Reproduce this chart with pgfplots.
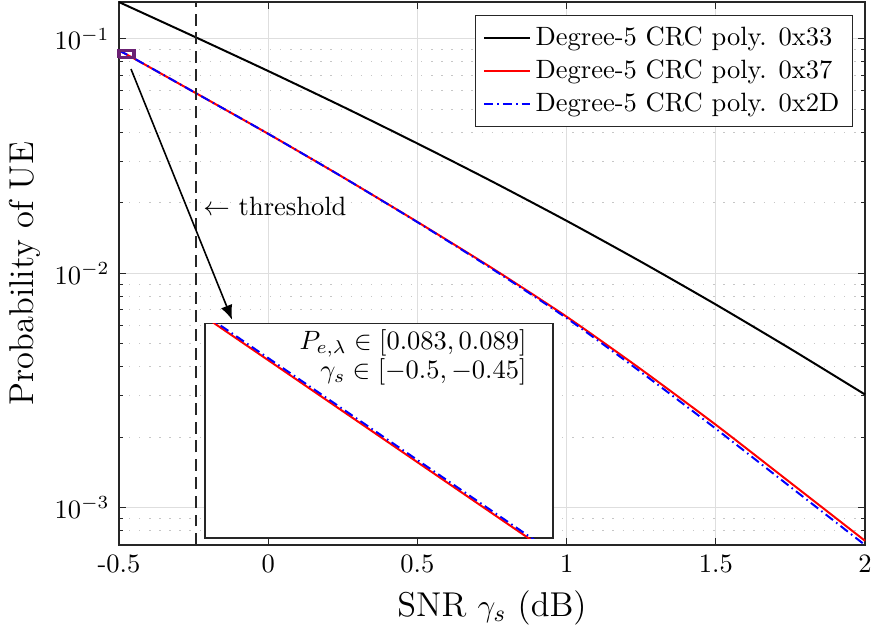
\documentclass[border=0pt]{standalone}
\usepackage{pgfplots}
\usepackage{pgfplotstable}
\pgfplotsset{compat=1.18}
\usetikzlibrary{arrows.meta}
\definecolor{axgray}{rgb}{0.15,0.15,0.15}
\definecolor{gridgray}{rgb}{0.87,0.87,0.87}
\definecolor{zoompurple}{rgb}{0.42,0.13,0.45}

\pgfplotstableread{
x y
-0.5 0.1436
-0.25 0.1026
0 0.07295
0.25 0.05140
0.5 0.03581
0.75 0.02466
1 0.01675
1.25 0.01119
1.5 0.007362
1.75 0.004764
2 0.003041
}\blackdata

\pgfplotstableread{
x y
-0.5 0.08918
-0.45 0.08255
-0.25 0.05946
0 0.03938
0.25 0.02572
0.5 0.01657
0.75 0.01053
1 0.006531
1.25 0.003890
1.5 0.002259
1.75 0.001279
2 0.0007228
}\reddata

\pgfplotstableread{
x y
-0.5 0.08924
-0.45 0.08261
-0.25 0.05946
0 0.03938
0.25 0.02572
0.5 0.01653
0.75 0.01045
1 0.006442
1.25 0.003784
1.5 0.002173
1.75 0.001227
2 0.0006934
}\bluedata

\begin{document}
\begin{tikzpicture}
\begin{axis}[name=main, scale only axis, width=281.5pt, height=204.9pt,
 ymode=log, xmin=-0.5, xmax=2, ymin=6.934e-4, ymax=0.1437,
 clip=false,
 xtick={-0.5,0,0.5,1,1.5,2}, xticklabels={-0.5,0,0.5,1,1.5,2},
 tick align=inside, major tick length=2.6pt, minor tick length=1.5pt,
 tick style={axgray, line width=0.4pt},
 axis line style={axgray, line width=0.5pt},
 xmajorgrids, ymajorgrids, yminorgrids,
 major grid style={gridgray, line width=0.4pt},
 minor grid style={gray!45, line width=0.4pt, dash pattern=on 0.5pt off 3.3pt},
 xlabel={SNR $\gamma_s$ (dB)}, ylabel={Probability of UE},
 label style={font=\fontsize{13}{15}\selectfont},
 ylabel style={yshift=-1.5pt},
 legend style={at={(1,1)}, anchor=north east, xshift=-4.5pt, yshift=-5pt, draw=axgray, line width=0.4pt, font=\fontsize{10}{12}\selectfont, cells={anchor=west}},
]
\addplot[black, line width=0.75pt, smooth, tension=0.4] table {\blackdata};
\addlegendentry{Degree-5 CRC poly. 0x33}
\addplot[red, line width=0.75pt, smooth, tension=0.4] table {\reddata};
\addlegendentry{Degree-5 CRC poly. 0x37}
\addplot[blue, line width=0.75pt, smooth, tension=0.4, dash pattern=on 3.5pt off 1.5pt on 0.6pt off 1.5pt] table {\bluedata};
\addlegendentry{Degree-5 CRC poly. 0x2D}
\addplot[axgray, line width=0.4pt, dash pattern=on 4.5pt off 2.5pt, forget plot] coordinates {(-0.242,6.934e-4) (-0.242,0.1437)};
\addplot[zoompurple, line width=1.2pt, forget plot] coordinates {(-0.5,0.083) (-0.45,0.083) (-0.45,0.089) (-0.5,0.089) (-0.5,0.083)};
\node[anchor=west, font=\fontsize{10}{12}\selectfont, inner sep=0pt] at (axis cs:-0.219,0.0192) {$\leftarrow$ threshold};
\draw[-{Latex[length=5.5pt,width=4.5pt]}, line width=0.6pt] (axis cs:-0.4598,0.0744) -- (axis cs:-0.121,0.00634);
\end{axis}
\begin{axis}[at={(main.south west)}, anchor=south west, xshift=32.5pt, yshift=2.6pt,
 scale only axis, width=131.3pt, height=81.1pt,
 xmin=-0.5, xmax=-0.45, ymin=0.083, ymax=0.089, ymode=log, ticks=none,
 axis line style={axgray, line width=0.6pt}, axis background/.style={fill=white}]
\addplot[red, line width=0.75pt] table {\reddata};
\addplot[blue, line width=0.75pt, dash pattern=on 3.5pt off 1.5pt on 0.6pt off 1.5pt] table {\bluedata};
\node[anchor=north east, align=right, font=\fontsize{10}{11}\selectfont, inner sep=0pt] at (rel axis cs:0.925,0.975) {$P_{e,\lambda}\in[0.083,0.089]$\\$\gamma_s\in[-0.5,-0.45]$};
\end{axis}
\pgfresetboundingbox
\path[use as bounding box] ([shift={(-44.9pt,-33.6pt)}]main.south west) rectangle ([shift={(3pt,0.75pt)}]main.north east);
\end{tikzpicture}
\end{document}
